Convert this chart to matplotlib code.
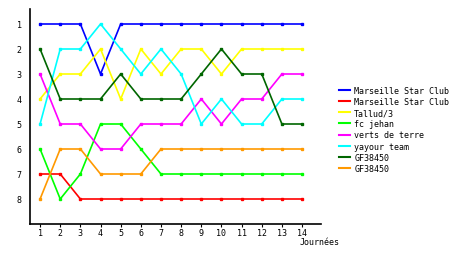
import matplotlib
matplotlib.use("Agg")
import matplotlib.pyplot as plt
from matplotlib.lines import Line2D

# ── données ─────────────────────────────────────────────
journees = list(range(1, 15))
equipes = ["Marseille Star Club", "Marseille Star Club", "Tallud/3", "fc jehan",
           "verts de terre", "yayour team", "GF38450", "GF38450"]
couleurs = ["#0000FF", "#FF0000", "#FFFF00", "#00FF00",
            "#FF00FF", "#00FFFF", "#006600", "#FF9900"]

msc_bleu  = [1, 1, 1, 3, 1, 1, 1, 1, 1, 1, 1, 1, 1, 1]
msc_rouge = [7, 7, 8, 8, 8, 8, 8, 8, 8, 8, 8, 8, 8, 8]
tallud    = [4, 3, 3, 2, 4, 2, 3, 2, 2, 3, 2, 2, 2, 2]
fc_jehan  = [6, 8, 7, 5, 5, 6, 7, 7, 7, 7, 7, 7, 7, 7]
verts     = [3, 5, 5, 6, 6, 5, 5, 5, 4, 5, 4, 4, 3, 3]
yayour    = [5, 2, 2, 1, 2, 3, 2, 3, 5, 4, 5, 5, 4, 4]
gf_vert   = [2, 4, 4, 4, 3, 4, 4, 4, 3, 2, 3, 3, 5, 5]
gf_orange = [8, 6, 6, 7, 7, 7, 6, 6, 6, 6, 6, 6, 6, 6]

series = [msc_bleu, msc_rouge, tallud, fc_jehan, verts, yayour, gf_vert, gf_orange]

fig = plt.figure(figsize=(4.6, 2.55), dpi=100)
ax = fig.add_axes([30/460, 30/255, 291/460, 215/255])

for vals, nom, c in zip(series, equipes, couleurs):
    ax.plot(journees, vals, color=c, lw=1.2, marker="s", ms=2,
            mec=c, mfc=c, label=nom)

ax.set_xlim(0.5, 14.94)
ax.set_ylim(9, 0.4)
ax.set_xticks(journees)
ax.set_yticks(range(1, 9))
ax.tick_params(labelsize=6, length=2, pad=1, width=0.8)
ax.tick_params(axis="y", length=0, pad=6)
for t in ax.get_xticklabels() + ax.get_yticklabels():
    t.set_family("DejaVu Sans Mono")
for s in ["top", "right"]:
    ax.spines[s].set_visible(False)
for s in ["left", "bottom"]:
    ax.spines[s].set_linewidth(1.2)

fig.text(300/460, 1 - 243/255, "Journées", fontsize=6,
         family="DejaVu Sans Mono", va="center", ha="left")

poignees = [Line2D([], [], color=c, lw=1.5) for c in couleurs]
fig.legend(poignees, equipes, loc="upper left", bbox_to_anchor=(335/460, 1 - 83/255),
           frameon=False, prop={"family": "DejaVu Sans Mono", "size": 6},
           handlelength=1.3, handletextpad=0.5, labelspacing=0.25,
           borderpad=0)

plt.savefig("out.png", dpi=100)
